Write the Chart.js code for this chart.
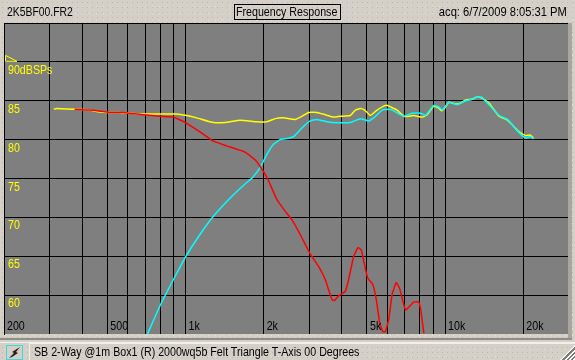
<!DOCTYPE html>
<html>
<head>
<meta charset="utf-8">
<title>Frequency Response</title>
<script src="https://cdn.jsdelivr.net/npm/chart.js@4"></script>
<style>
    html, body { margin: 0; padding: 0; }
    body {
        width: 575px; height: 360px; position: relative; overflow: hidden;
        background-color: #d4d0c8;
        background-image: radial-gradient(#bdb9b1 0.6px, transparent 0.8px), radial-gradient(#e6e3dc 0.6px, transparent 0.8px);
        background-size: 5px 5px, 7px 7px;
        background-position: 0 0, 2px 3px;
        font-family: "Liberation Sans", sans-serif; font-size: 13px; color: #000;
    }
    #chart { position: absolute; left: 0; top: 0; }
    .txt { position: absolute; white-space: nowrap; line-height: 14px; transform-origin: left top; }
    #file { left: 7px; top: 5px; transform: scaleX(0.8); }
    #titlebox { position: absolute; left: 234px; top: 4px; width: 105px; height: 14px; border: 1px solid #000; }
    #title { left: 236px; top: 5px; transform: scaleX(0.82); }
    #acq { right: 8px; top: 5px; transform-origin: right top; transform: scaleX(0.86); }
    #rightbar { position: absolute; left: 568px; top: 23px; width: 4px; height: 315px; background: #a9a6a0; }
    #bottombar { position: absolute; left: 0; top: 338px; width: 572px; height: 2px; background: #8f8d88; }
    #statusline { position: absolute; left: 0; top: 342px; width: 575px; height: 1px; background: #f2f0ea; }
    #icon { position: absolute; left: 6px; top: 345px; width: 15px; height: 13px; border: 1px solid #3fd8df; background: #d4d0c8; }
    #status { left: 34px; top: 345px; transform: scaleX(0.82); }
    #statusbox { position: absolute; left: 29px; top: 343px; width: 546px; height: 17px; border-left: 1px solid #f2f0ea; border-top: 1px solid #f2f0ea; }
    #grip { position: absolute; left: 560px; top: 345px; width: 15px; height: 15px;
        background: repeating-linear-gradient(135deg, #807d78 0 1.5px, #ffffff 1.5px 3px);
        clip-path: polygon(100% 0, 100% 100%, 0 100%); }
</style>
</head>
<body>
<canvas id="chart" width="575" height="360"></canvas>
<div class="txt" id="file">2K5BF00.FR2</div>
<div id="titlebox"></div>
<div class="txt" id="title">Frequency Response</div>
<div class="txt" id="acq">acq: 6/7/2009 8:05:31 PM</div>
<div id="rightbar"></div>
<div id="bottombar"></div>
<div id="statusline"></div>
<div id="statusbox"></div>
<div id="icon"><svg width="15" height="13" viewBox="0 0 15 13"><path d="M2 12 L7 7 L5 6 L13 1 L9 6 L11 7 L5 11 Z" fill="#222"/></svg></div>
<div class="txt" id="status">SB 2-Way @1m Box1 (R) 2000wq5b Felt Triangle T-Axis 00 Degrees</div>
<div id="grip"></div>
<script>
const gridFreqs = [200, 300, 400, 500, 600, 700, 800, 900, 1000, 2000, 3000, 4000, 5000, 6000, 7000, 8000, 9000, 10000, 20000];
const freqLabels = { 200: '200', 500: '500', 1000: '1k', 2000: '2k', 5000: '5k', 10000: '10k', 20000: '20k' };
const dbLabels = { 90: '90dBSPs', 85: '85', 80: '80', 75: '75', 70: '70', 65: '65', 60: '60' };

const yellowFreq = [311, 318, 374, 428, 460, 511, 558, 667, 925, 1011, 1105, 1280, 1420, 1623, 1882, 2058, 2216, 2386, 2646, 2808, 2978, 3208, 3454, 3720, 3948, 4316, 4512, 4714, 4900, 5154, 5420, 5800, 6000, 6250, 6534, 6930, 7240, 7570, 8160, 8530, 9040, 9410, 9690, 9980, 10340, 10970, 11470, 11980, 12720, 13300, 13900, 14750, 16130, 17380, 19270, 20440, 21240, 21900];
const yellowDb = [83.9, 84.0, 83.9, 83.8, 83.6, 83.5, 83.5, 83.3, 83.3, 83.1, 82.8, 82.2, 82.2, 82.5, 82.3, 82.3, 82.7, 82.8, 82.6, 83.0, 83.5, 83.5, 83.2, 82.9, 83.0, 83.1, 83.8, 84.0, 83.8, 83.1, 83.7, 84.3, 84.4, 84.1, 83.8, 83.0, 83.0, 83.1, 82.9, 83.2, 84.3, 84.1, 83.7, 84.1, 84.8, 84.6, 84.7, 85.1, 85.2, 85.5, 85.3, 84.7, 83.0, 82.5, 81.0, 80.5, 80.6, 80.2];

const cyanFreq = [714, 797, 905, 1000, 1137, 1286, 1529, 1696, 1810, 1938, 2058, 2183, 2315, 2421, 2608, 2808, 3023, 3208, 3507, 3668, 4316, 4714, 5077, 5390, 5720, 6066, 6250, 6930, 7470, 8060, 8400, 9040, 9460, 9750, 10340, 11140, 11980, 12720, 13300, 13900, 16130, 17380, 19270, 20440, 21240, 21900];
const cyanDb = [55.0, 58.6, 62.2, 64.9, 67.8, 70.2, 72.9, 74.3, 75.1, 76.4, 78.1, 79.4, 80.0, 80.1, 80.4, 81.5, 82.4, 82.6, 82.3, 82.2, 82.2, 82.7, 82.4, 83.0, 83.8, 83.9, 83.8, 83.0, 83.4, 83.4, 83.1, 84.4, 84.2, 83.8, 84.8, 84.5, 85.0, 85.2, 85.5, 85.4, 83.1, 82.6, 80.9, 80.2, 80.4, 80.1];

const redFreq = [374, 428, 511, 575, 687, 797, 897, 1011, 1137, 1280, 1441, 1696, 1854, 1996, 2076, 2249, 2421, 2569, 2766, 3023, 3256, 3454, 3668, 3752, 3890, 4127, 4250, 4445, 4621, 4757, 4857, 5032, 5260, 5420, 5600, 5750, 5890, 6066, 6250, 6480, 6674, 7040, 7570, 7920, 8090, 8280];
const redDb = [83.9, 83.8, 83.5, 83.5, 83.2, 83.0, 82.9, 82.1, 81.0, 79.8, 79.2, 78.4, 77.4, 75.9, 74.9, 72.3, 70.8, 69.7, 67.8, 65.3, 63.7, 62.0, 59.4, 59.3, 59.9, 60.5, 62.0, 65.0, 66.1, 65.8, 64.4, 62.2, 61.4, 59.6, 56.4, 55.3, 55.3, 56.9, 60.1, 61.6, 60.9, 58.1, 59.1, 59.1, 57.7, 55.1];

function points(xs, ys) {
    return xs.map((x, i) => ({ x: x, y: ys[i] }));
}

function series(label, xs, ys, color) {
    return {
        label: label,
        data: points(xs, ys),
        borderColor: color,
        borderWidth: 1.5,
        pointRadius: 0,
        tension: 0.12,
        fill: false
    };
}

// fundo cinza da area do grafico
const plotBackground = {
    id: 'plotBackground',
    beforeDraw(chart) {
        const a = chart.chartArea;
        chart.ctx.fillStyle = '#807f80';
        chart.ctx.fillRect(a.left, a.top, a.right - a.left, a.bottom - a.top);
    }
};

// texto estreito, a fonte original era mais fina
function narrowText(ctx, text, x, y) {
    ctx.save();
    ctx.translate(x, y);
    ctx.scale(0.82, 1);
    ctx.fillText(text, 0, 0);
    ctx.restore();
}

// os rotulos ficam dentro da area, como no original
const insideLabels = {
    id: 'insideLabels',
    afterDraw(chart) {
        const ctx = chart.ctx;
        const a = chart.chartArea;
        const xs = chart.scales.x;
        const ys = chart.scales.y;
        ctx.save();
        ctx.font = '13px "Liberation Sans"';
        ctx.textBaseline = 'top';
        ctx.fillStyle = '#000';
        Object.keys(freqLabels).forEach(f => {
            narrowText(ctx, freqLabels[f], xs.getPixelForValue(+f) + 3, a.bottom - 14);
        });
        ctx.fillStyle = '#ffff00';
        Object.keys(dbLabels).forEach(d => {
            narrowText(ctx, dbLabels[d], a.left + 4, ys.getPixelForValue(+d) + 2);
        });
        // marcador de referencia no eixo
        const y90 = ys.getPixelForValue(90);
        ctx.strokeStyle = '#ffff00';
        ctx.lineWidth = 1;
        ctx.beginPath();
        ctx.moveTo(a.left + 1.5, y90 - 6.5);
        ctx.lineTo(a.left + 13, y90 - 0.5);
        ctx.lineTo(a.left + 1.5, y90 - 0.5);
        ctx.closePath();
        ctx.stroke();
        ctx.restore();
    }
};

const ctx = document.getElementById('chart').getContext('2d');
new Chart(ctx, {
    type: 'line',
    data: {
        datasets: [
            series('Red', redFreq, redDb, '#ff0000'),
            series('Cyan', cyanFreq, cyanDb, '#00ffff'),
            series('Yellow', yellowFreq, yellowDb, '#ffff00')
        ]
    },
    options: {
        responsive: false,
        animation: false,
        devicePixelRatio: 1,
        layout: { padding: { left: 4, top: 23, right: 6, bottom: 26 } },
        plugins: { legend: { display: false }, tooltip: { enabled: false } },
        scales: {
            x: {
                type: 'logarithmic',
                min: 200,
                max: 30000,
                afterBuildTicks(scale) {
                    scale.ticks = gridFreqs.map(v => ({ value: v }));
                },
                grid: { color: '#000', lineWidth: 1, drawTicks: false },
                border: { display: false },
                ticks: { display: false, autoSkip: false }
            },
            y: {
                min: 55,
                max: 95,
                grid: {
                    // sem linha na base da area
                    color: c => (c.tick.value === 55 ? 'rgba(0,0,0,0)' : '#000'),
                    lineWidth: 1,
                    drawTicks: false
                },
                border: { color: '#000', width: 1 },
                ticks: { display: false, stepSize: 5 }
            }
        }
    },
    plugins: [plotBackground, insideLabels]
});
</script>
</body>
</html>
